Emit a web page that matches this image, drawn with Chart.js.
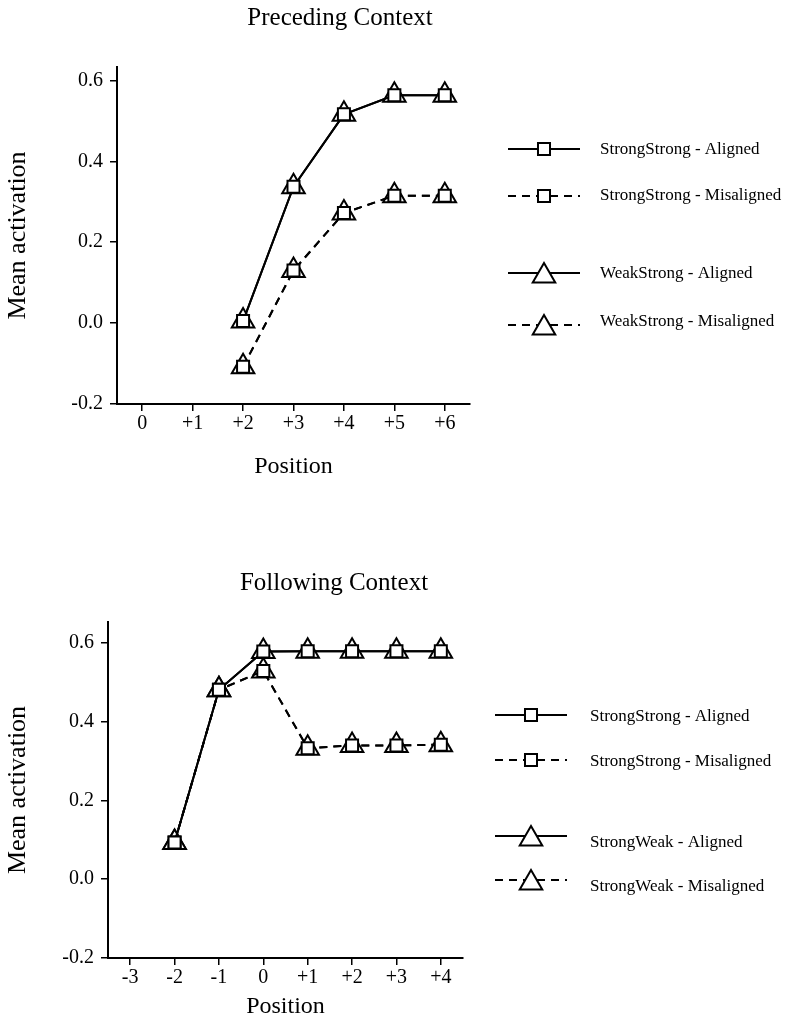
<!DOCTYPE html>
<html>
<head>
<meta charset="utf-8">
<script src="https://cdn.jsdelivr.net/npm/chart.js@4/dist/chart.umd.min.js"></script>
<style>
  body { margin: 0; background: #fff; }
  canvas { display: block; }
</style>
</head>
<body>
<canvas id="preceding" width="794" height="520"></canvas>
<canvas id="following" width="794" height="513"></canvas>
<script>
// === Data: Preceding Context ===
const precedingPositions = ['0', '+1', '+2', '+3', '+4', '+5', '+6'];
const precSSAligned    = [null, null, 0.005, 0.337, 0.516, 0.563, 0.563];
const precSSMisaligned = [null, null, -0.108, 0.13, 0.272, 0.315, 0.315];
const precWSAligned    = [null, null, 0.005, 0.337, 0.516, 0.563, 0.563];
const precWSMisaligned = [null, null, -0.108, 0.13, 0.272, 0.315, 0.315];

// === Data: Following Context ===
const followingPositions = ['-3', '-2', '-1', '0', '+1', '+2', '+3', '+4'];
const follSSAligned    = [null, 0.093, 0.48, 0.577, 0.578, 0.578, 0.578, 0.578];
const follSSMisaligned = [null, 0.093, 0.48, 0.528, 0.332, 0.339, 0.339, 0.341];
const follSWAligned    = [null, 0.093, 0.48, 0.577, 0.578, 0.578, 0.578, 0.578];
const follSWMisaligned = [null, 0.093, 0.48, 0.528, 0.332, 0.339, 0.339, 0.341];

const yTicks = [-0.2, 0.0, 0.2, 0.4, 0.6];

const SERIF = '"Liberation Serif", "Times New Roman", serif';
const DASH = [8, 6];

// series style: square = StrongStrong, triangle = the other pair
function series(label, data, shape, dashed) {
  return {
    label: label,
    data: data,
    borderColor: '#000',
    borderWidth: 2,
    borderDash: dashed ? DASH : [],
    pointStyle: shape,
    pointRadius: shape === 'triangle' ? 13 : 8.5,
    pointBorderWidth: 2,
    pointBackgroundColor: '#fff',
    pointBorderColor: '#000',
    tension: 0,
    spanGaps: false
  };
}

// title + legend drawn on the right, with a gap between the two pairs
const paperText = {
  id: 'paperText',
  afterDraw(chart, args, opts) {
    const ctx = chart.ctx;
    ctx.save();
    ctx.fillStyle = '#000';
    ctx.font = '25px ' + SERIF;
    ctx.textAlign = 'center';
    ctx.textBaseline = 'alphabetic';
    ctx.fillText(opts.title, opts.titleX, opts.titleY);

    ctx.font = '17px ' + SERIF;
    ctx.textAlign = 'left';
    ctx.textBaseline = 'middle';
    chart.data.datasets.forEach((ds, i) => {
      const ly = opts.lineRows[i];
      ctx.strokeStyle = '#000';
      ctx.lineWidth = ds.borderWidth;
      ctx.setLineDash(ds.borderDash);
      ctx.beginPath();
      ctx.moveTo(opts.lineX, ly);
      ctx.lineTo(opts.lineX + 72, ly);
      ctx.stroke();
      ctx.setLineDash([]);
      ctx.fillStyle = '#fff';
      ctx.lineWidth = ds.pointBorderWidth;
      const dy = ds.pointStyle === 'triangle' ? 3 : 0;
      Chart.helpers.drawPoint(ctx, {
        pointStyle: ds.pointStyle, radius: ds.pointRadius,
        borderWidth: ds.pointBorderWidth, rotation: 0
      }, opts.lineX + 36, ly + dy);
      ctx.fillStyle = '#000';
      ctx.fillText(ds.label, opts.textX, opts.textRows[i]);
    });
    ctx.restore();
  }
};

function makeChart(id, labels, datasets, box, text) {
  return new Chart(document.getElementById(id), {
    type: 'line',
    data: { labels: labels, datasets: datasets },
    plugins: [paperText],
    options: {
      responsive: false,
      animation: false,
      devicePixelRatio: 1,
      layout: { padding: { top: box.top, right: box.right, left: 0, bottom: 0 } },
      plugins: {
        legend: { display: false },
        title: { display: false },
        tooltip: { enabled: false },
        paperText: text
      },
      scales: {
        x: {
          type: 'category',
          offset: true,
          grid: { drawOnChartArea: false, drawTicks: true, tickLength: 7, color: '#000', lineWidth: 1.5 },
          border: { color: '#000', width: 2 },
          ticks: { color: '#000', padding: 1, font: { family: SERIF, size: 20 }, maxRotation: 0, autoSkip: false },
          title: { display: true, text: 'Position', color: '#000', font: { family: SERIF, size: 24 }, padding: { top: 0, bottom: box.xTitlePad } },
          afterFit: s => { s.height = box.xHeight; }
        },
        y: {
          min: -0.2,
          max: box.yMax,
          grid: { drawOnChartArea: false, drawTicks: true, tickLength: 7, color: '#000', lineWidth: 1.5 },
          border: { color: '#000', width: 2 },
          ticks: { color: '#000', padding: 7, font: { family: SERIF, size: 20 }, callback: v => v.toFixed(1) },
          afterBuildTicks: s => { s.ticks = yTicks.map(v => ({ value: v })); },
          title: { display: true, text: 'Mean activation', color: '#000', font: { family: SERIF, size: 26 }, padding: { top: 2.6, bottom: 0 } },
          afterFit: s => { s.width = box.left; }
        }
      }
    }
  });
}

const precedingChart = makeChart('preceding', precedingPositions, [
  series('StrongStrong - Aligned', precSSAligned, 'rect', false),
  series('StrongStrong - Misaligned', precSSMisaligned, 'rect', true),
  series('WeakStrong - Aligned', precWSAligned, 'triangle', false),
  series('WeakStrong - Misaligned', precWSMisaligned, 'triangle', true)
], { top: 67, right: 324, left: 117, xHeight: 116, xTitlePad: 38.6, yMax: 0.633 }, {
  title: 'Preceding Context', titleX: 340, titleY: 25,
  lineX: 508, textX: 600,
  lineRows: [149, 196, 273, 325], textRows: [150, 196, 274, 322]
});

const followingChart = makeChart('following', followingPositions, [
  series('StrongStrong - Aligned', follSSAligned, 'rect', false),
  series('StrongStrong - Misaligned', follSSMisaligned, 'rect', true),
  series('StrongWeak - Aligned', follSWAligned, 'triangle', false),
  series('StrongWeak - Misaligned', follSWMisaligned, 'triangle', true)
], { top: 102, right: 331, left: 108, xHeight: 75, xTitlePad: 11.6, yMax: 0.652 }, {
  title: 'Following Context', titleX: 334, titleY: 70,
  lineX: 495, textX: 590,
  lineRows: [195, 240, 316, 360], textRows: [197, 242, 323, 367]
});
</script>
</body>
</html>
